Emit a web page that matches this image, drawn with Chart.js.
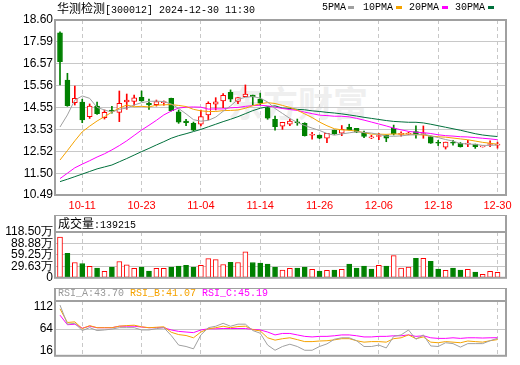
<!DOCTYPE html>
<html>
<head>
<meta charset="utf-8">
<script src="https://cdn.jsdelivr.net/npm/chart.js@4.4.0/dist/chart.umd.min.js"></script>
<style>
  body { margin: 0; background: #fff; width: 520px; height: 365px; overflow: hidden; position: relative;
         font-family: "Liberation Mono", monospace; }
  canvas { position: absolute; left: 0; }
  .t { position: absolute; font-size: 10px; line-height: 12px; white-space: nowrap; color: #000; }
  .cn { font-family: "Noto Sans CJK SC"; font-size: 12px; }
  .mk { position: absolute; width: 6px; height: 3px; }
  .wm { position: absolute; left: 228px; top: 84px; font-family: "Noto Sans CJK SC"; font-weight: bold;
        font-size: 35px; line-height: 35px; color: #efefef; white-space: nowrap; }
</style>
</head>
<body>
<div class="wm">东方财富</div>
<canvas id="k" width="520" height="215" style="top:0"></canvas>
<canvas id="vol" width="520" height="72" style="top:215px"></canvas>
<canvas id="rsi" width="520" height="77" style="top:288px"></canvas>

<div class="t" style="left:57px;top:2px"><span class="cn">华测检测</span>[300012] 2024-12-30 11:30</div>
<div class="t" style="left:322px;top:2px">5PMA</div><div class="mk" style="left:348px;top:6px;background:#a0a0a0"></div>
<div class="t" style="left:363px;top:2px">10PMA</div><div class="mk" style="left:396px;top:6px;background:#f5a300"></div>
<div class="t" style="left:409px;top:2px">20PMA</div><div class="mk" style="left:442px;top:6px;background:#ff00ff"></div>
<div class="t" style="left:455px;top:2px">30PMA</div><div class="mk" style="left:488px;top:6px;background:#00703c"></div>
<div class="t" style="left:58px;top:217px"><span class="cn">成交量</span>:139215</div>
<div class="t" style="left:58px;top:288px;color:#999">RSI_A:43.70</div>
<div class="t" style="left:130px;top:288px;color:#f5a300">RSI_B:41.07</div>
<div class="t" style="left:202px;top:288px;color:#ff00ff">RSI_C:45.19</div>

<script>
// trading days
const dates = ["10-08","10-09","10-10","10-11","10-14","10-15","10-16","10-17","10-18","10-21",
  "10-22","10-23","10-24","10-25","10-28","10-29","10-30","10-31","11-01","11-04",
  "11-05","11-06","11-07","11-08","11-11","11-12","11-13","11-14","11-15","11-18",
  "11-19","11-20","11-21","11-22","11-25","11-26","11-27","11-28","11-29","12-02",
  "12-03","12-04","12-05","12-06","12-09","12-10","12-11","12-12","12-13","12-16",
  "12-17","12-18","12-19","12-20","12-23","12-24","12-25","12-26","12-27","12-30"];
const labelDays = ["10-11","10-23","11-04","11-14","11-26","12-06","12-18","12-30"];

const open = [18.01,15.82,14.77,14.80,14.12,14.61,14.07,14.43,14.32,14.80,
  14.83,15.02,14.74,14.68,14.77,14.97,14.35,13.92,13.81,13.77,
  14.20,14.70,14.85,15.25,14.83,15.05,15.12,14.93,14.54,14.00,
  13.68,13.77,13.87,13.81,13.26,13.27,13.12,13.50,13.35,13.63,
  13.58,13.40,13.14,13.20,13.27,13.58,13.30,13.31,13.43,13.29,
  13.20,12.92,12.71,12.92,12.89,12.85,12.85,12.72,12.83,12.80];
const high = [18.05,16.13,15.54,14.93,14.71,14.80,14.43,14.60,15.31,15.17,
  15.12,15.31,14.93,14.89,14.85,14.98,14.43,14.00,13.87,14.43,
  14.81,15.00,15.19,15.36,15.00,15.59,15.12,15.21,14.58,14.15,
  13.86,14.01,14.01,13.84,13.39,13.27,13.35,13.50,13.71,13.77,
  13.58,13.45,13.26,13.35,13.27,13.73,13.42,13.40,13.69,13.69,
  13.22,13.02,12.94,13.02,12.92,13.02,12.85,12.76,13.00,12.94];
const low = [15.59,14.60,14.66,13.84,14.04,14.23,14.01,14.28,13.89,14.46,
  14.65,14.83,14.46,14.61,14.65,14.38,13.81,13.70,13.47,13.69,
  13.97,14.43,14.54,14.81,14.72,15.05,14.66,14.66,14.00,13.50,
  13.53,13.70,13.72,13.22,13.08,13.10,12.92,13.30,13.24,13.50,
  13.38,13.15,13.10,13.05,12.96,13.27,13.22,13.28,13.12,13.12,
  12.88,12.78,12.62,12.80,12.71,12.73,12.65,12.71,12.73,12.66];
const close = [16.67,14.63,14.97,13.97,14.61,14.26,14.32,14.37,14.74,14.89,
  14.99,14.85,14.66,14.82,14.80,14.40,13.87,13.84,13.50,14.12,
  14.74,14.81,15.11,14.93,15.00,15.17,15.05,14.74,14.05,13.66,
  13.86,13.92,13.84,13.24,13.27,13.12,13.35,13.32,13.53,13.51,
  13.40,13.20,13.18,13.22,13.12,13.32,13.32,13.35,13.28,13.32,
  12.89,12.89,12.94,12.89,12.73,12.87,12.73,12.74,12.86,12.83];

const ma5 = [13.64,14.20,14.89,15.08,14.97,14.55,14.43,14.33,14.46,14.52,
  14.66,14.77,14.83,14.84,14.82,14.71,14.50,14.25,13.98,13.91,
  13.95,14.10,14.37,14.62,14.92,15.02,15.05,14.98,14.80,14.50,
  14.27,14.04,13.85,13.71,13.59,13.48,13.34,13.26,13.32,13.37,
  13.42,13.39,13.36,13.30,13.22,13.21,13.23,13.27,13.28,13.32,
  13.23,13.15,13.06,12.99,12.87,12.86,12.83,12.79,12.79,12.81];
const ma10 = [12.11,12.55,13.00,13.42,13.68,13.92,14.12,14.33,14.52,14.66,
  14.58,14.60,14.57,14.65,14.67,14.68,14.64,14.59,14.46,14.39,
  14.36,14.36,14.40,14.41,14.43,14.51,14.63,14.72,14.77,14.73,
  14.64,14.55,14.42,14.25,14.08,13.87,13.70,13.56,13.51,13.49,
  13.45,13.38,13.31,13.31,13.30,13.32,13.31,13.32,13.29,13.27,
  13.22,13.19,13.17,13.13,13.09,13.05,12.99,12.93,12.89,12.84];
const ma20 = [11.25,11.50,11.75,11.92,12.08,12.25,12.40,12.58,12.78,13.00,
  13.25,13.50,13.72,13.95,14.20,14.38,14.52,14.56,14.57,14.56,
  14.47,14.48,14.48,14.53,14.55,14.60,14.63,14.65,14.62,14.56,
  14.50,14.45,14.41,14.33,14.26,14.19,14.17,14.14,14.14,14.11,
  14.04,13.96,13.87,13.78,13.69,13.59,13.51,13.44,13.40,13.38,
  13.34,13.28,13.24,13.22,13.19,13.18,13.15,13.12,13.09,13.05];
const ma30 = [11.11,11.22,11.34,11.46,11.58,11.70,11.79,11.88,12.03,12.18,
  12.34,12.50,12.65,12.81,12.96,13.12,13.24,13.33,13.43,13.53,
  13.65,13.77,13.89,14.00,14.12,14.26,14.40,14.51,14.58,14.62,
  14.52,14.50,14.46,14.44,14.39,14.36,14.32,14.29,14.25,14.20,
  14.15,14.09,14.04,13.99,13.94,13.90,13.88,13.86,13.86,13.83,
  13.77,13.70,13.63,13.56,13.49,13.41,13.33,13.27,13.23,13.20];

// volume in 万 (last day 139215)
const volume = [105.1,63.0,39.6,37.1,29.5,25.2,16.9,27.7,42.1,33.6,
  24.4,27.7,17.6,24.4,24.4,27.7,30.3,32.0,27.7,32.0,
  49.7,47.1,34.5,40.3,39.6,67.3,39.6,37.8,35.3,27.7,
  20.2,24.4,25.2,27.7,21.9,17.6,19.4,20.2,21.9,35.3,
  25.2,30.3,22.7,32.0,30.3,57.2,25.2,27.7,50.4,50.4,
  42.9,22.7,19.4,25.2,20.2,21.9,15.1,9.3,16.9,13.92];
const volUp = [1,0,1,0,1,0,1,0,1,1, 1,0,0,1,1,0,0,0,0,1, 1,1,1,0,1,1,0,0,0,0,
  1,1,0,0,1,0,1,0,1,0, 0,0,0,1,0,1,1,1,0,1, 0,0,1,0,0,1,0,1,1,1];

const rsiA = [116.4,74.7,76.6,60.8,67.1,60.8,62.1,64.0,67.1,67.1,
  67.1,62.1,62.1,65.0,67.1,50.0,29.1,26.0,20.9,51.3,
  67.1,70.2,76.6,70.2,74.7,74.7,60.8,55.0,29.1,17.8,
  26.0,31.0,26.0,17.8,17.8,26.0,31.7,41.8,45.0,45.0,
  38.6,26.0,26.0,29.1,22.8,48.1,51.3,62.0,41.8,51.3,
  27.2,26.0,34.2,32.3,24.7,32.3,32.3,32.3,38.6,43.70];
const rsiB = [108.2,78.4,79.8,65.0,71.6,67.0,67.0,67.0,70.3,71.6,
  72.5,69.0,67.0,68.0,69.0,57.0,52.0,50.0,45.0,57.6,
  64.6,67.0,70.3,67.0,69.5,70.3,62.7,60.0,45.0,39.9,
  43.0,45.0,41.0,36.7,36.7,38.0,38.6,40.5,43.1,43.1,
  38.6,35.5,36.7,36.7,35.5,43.1,45.0,51.3,43.1,46.9,
  35.5,34.2,36.7,35.5,34.2,38.0,36.7,35.5,38.6,41.07];
const rsiC = [94.4,73.5,74.6,66.0,70.3,67.0,67.0,67.0,70.3,70.3,
  70.3,68.4,67.0,67.0,67.0,62.1,59.0,57.6,56.3,62.1,
  64.6,64.6,65.3,65.3,65.3,65.3,63.3,62.1,57.6,51.3,
  54.5,54.5,51.3,48.1,46.9,48.1,48.1,49.4,51.3,51.3,
  49.4,46.9,46.9,48.1,48.1,49.4,49.4,51.3,48.1,49.4,
  45.0,43.7,43.7,45.0,43.7,45.0,45.0,44.5,45.0,45.19];

const priceTicks = [10.49, 11.50, 12.52, 13.53, 14.55, 15.56, 16.57, 17.59, 18.60];
const volTicks = [0, 29.63, 59.25, 88.88, 118.50];
const rsiTicks = [16, 64, 112];

const RED = '#ff0000', GREEN = '#008000', GRID = '#c8c8c8';
const idx = dates.map((d, i) => i);
const tickIdx = labelDays.map(d => dates.indexOf(d));
const up = close.map((c, i) => c >= open[i]);

Chart.defaults.font.family = 'Liberation Sans';

// box round the plot (and its header strip)
const frame = {
  id: 'frame',
  afterDraw(chart, args, opts) {
    const {left, top, right, bottom} = chart.chartArea;
    const head = opts.head || 0;
    const ctx = chart.ctx;
    ctx.save();
    ctx.strokeStyle = '#a0a0a0';
    ctx.lineWidth = 2;
    ctx.strokeRect(left, top - head, right - left, bottom - top + head);
    if (head) {
      ctx.beginPath(); ctx.moveTo(left, top); ctx.lineTo(right, top); ctx.stroke();
    }
    ctx.restore();
  }
};

function xAxis(h, showLabels) {
  return {
    type: 'linear', min: -0.674, max: 60.146, offset: false,
    afterBuildTicks: s => { s.ticks = tickIdx.map(v => ({value: v})); },
    afterFit: s => { s.height = h; },
    grid: { color: GRID, drawTicks: false, offset: false },
    border: { display: false, dash: [4, 3] },
    ticks: { display: showLabels, color: RED, font: {size: 11}, padding: 4,
             maxRotation: 0, autoSkip: false, callback: v => dates[v] }
  };
}

function yAxis(min, max, ticks, fmt, gridColor) {
  return {
    min: min, max: max,
    afterBuildTicks: s => { s.ticks = ticks.map(v => ({value: v})); },
    afterFit: s => { s.width = 55; },
    grid: { color: gridColor, drawTicks: false },
    border: { display: false },
    ticks: { color: '#000', font: {size: 12}, padding: 2, autoSkip: false, callback: fmt }
  };
}

const base = (pad, head) => ({
  responsive: false, animation: false, devicePixelRatio: 1,
  layout: { padding: pad },
  plugins: { legend: {display: false}, tooltip: {enabled: false}, frame: {head: head} }
});

function line(vals, color) {
  return { type: 'line', data: idx.map(i => ({x: i, y: vals[i]})), borderColor: color,
           borderWidth: 1, pointRadius: 0, tension: 0 };
}

// price + MAs
let kChart = new Chart(document.getElementById('k'), {
  type: 'bar',
  data: { datasets: [
    line(ma5, '#a0a0a0'),
    line(ma10, '#f5a300'),
    line(ma20, '#ff00ff'),
    line(ma30, '#00703c'),
    { data: idx.map(i => ({x: i, y: [open[i], close[i]]})),
      backgroundColor: up.map(u => u ? '#fff' : GREEN),
      borderColor: up.map(u => u ? RED : GREEN),
      borderWidth: 1, borderSkipped: false, barThickness: 5, minBarLength: 1, grouped: false },
    { data: idx.map(i => ({x: i, y: [low[i], high[i]]})),
      backgroundColor: up.map(u => u ? RED : GREEN),
      barThickness: 1, grouped: false }
  ]},
  options: Object.assign(base({top: 20, right: 14, left: 0, bottom: 0}, 0), {
    scales: { x: xAxis(20, true), y: yAxis(10.49, 18.60, priceTicks, v => v.toFixed(2), GRID) }
  }),
  plugins: [frame]
});

// volume
let volChart = new Chart(document.getElementById('vol'), {
  type: 'bar',
  data: { datasets: [{
    data: idx.map(i => ({x: i, y: volume[i]})),
    backgroundColor: volUp.map(u => u ? '#fff' : GREEN),
    borderColor: volUp.map(u => u ? RED : GREEN),
    borderWidth: 1, borderSkipped: false, barThickness: 5
  }]},
  options: Object.assign(base({top: 17, right: 14, left: 0, bottom: 8}, 17), {
    scales: { x: xAxis(0, false),
              y: yAxis(0, 118.50, volTicks, v => v === 0 ? '0' : v.toFixed(2) + '万', GRID) }
  }),
  plugins: [frame]
});

// RSI
let rsiChart = new Chart(document.getElementById('rsi'), {
  type: 'line',
  data: { datasets: [
    line(rsiA, '#a0a0a0'),
    line(rsiB, '#f5a300'),
    line(rsiC, '#ff00ff')
  ]},
  options: Object.assign(base({top: 13, right: 14, left: 0, bottom: 1}, 13), {
    scales: { x: xAxis(0, false),
              y: yAxis(5.7, 125.3, rsiTicks, v => String(v),
                       ctx => ctx.tick && ctx.tick.value === 64 ? GRID : 'rgba(0,0,0,0)') }
  }),
  plugins: [frame]
});
</script>
</body>
</html>
